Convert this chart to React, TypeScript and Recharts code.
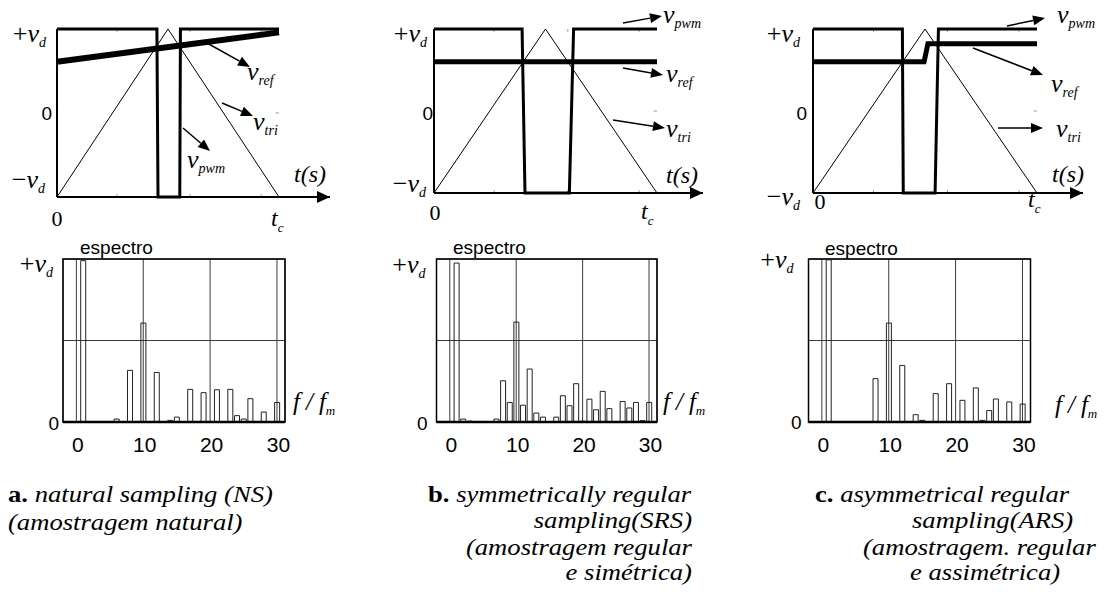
import {
  LineChart,
  Line,
  XAxis,
  YAxis,
  BarChart,
  Bar,
  CartesianGrid,
  ReferenceLine,
  ReferenceArea,
  ReferenceDot,
} from 'recharts';

const W = 1112;
const H = 600;
const SERIF = '"Liberation Serif", "Times New Roman", serif';
const SANS = '"Liberation Sans", Arial, sans-serif';

// time axis in units of t_c, voltage in units of v_d
const triT = [0, 0.5, 1];
const triV = [-1, 1, -1];

const refTimeA = [0, 1];
const refA = [0.61, 0.96];
const refTimeB = [0, 1];
const refB = [0.6, 0.6];
const refTimeC = [0, 0.496, 0.513, 1];
const refC = [0.6, 0.6, 0.82, 0.82];

const pwmTimeA = [0, 0.45, 0.455, 0.553, 0.556, 1];
const pwmTimeB = [0, 0.395, 0.408, 0.607, 0.626, 1];
const pwmTimeC = [0, 0.399, 0.403, 0.545, 0.56, 1];
const pwmLevels = [1, 1, -1, -1, 1, 1];

const minorTicks = [0.27, 0.6, 0.92];
const topXTicks = [0, 1];
const topYTicks = [-1, 0, 1];

// spectra (f / f_m, amplitude relative to v_d)
const harmonics = [1, 2, 3, 4, 5, 6, 7, 8, 9, 10, 11, 12, 13, 14, 15, 16, 17, 18, 19, 20, 21, 22, 23, 24, 25, 26, 27, 28, 29, 30];
const specA = [0.99, 0.003, 0, 0, 0, 0.018, 0, 0.317, 0, 0.607, 0, 0.304, 0.003, 0.01, 0.03, 0, 0.2, 0.003, 0.18, 0, 0.198, 0.003, 0.2, 0.039, 0.018, 0.143, 0.003, 0.061, 0, 0.12];
const specB = [0.975, 0.018, 0.005, 0, 0, 0, 0.018, 0.253, 0.12, 0.613, 0.103, 0.325, 0.055, 0.03, 0, 0.03, 0.161, 0.1, 0.235, 0.005, 0.14, 0.075, 0.188, 0.082, 0, 0.126, 0.086, 0.12, 0.008, 0.12];
const specC = [0.995, 0, 0.003, 0.003, 0.003, 0.003, 0.003, 0.266, 0, 0.607, 0.003, 0.347, 0, 0.045, 0.01, 0, 0.174, 0.003, 0.235, 0.003, 0.133, 0.003, 0.209, 0.01, 0.07, 0.141, 0.003, 0.123, 0.003, 0.11];
const specXTicks = [0, 10, 20, 30];
const specYTicks = [0, 0.5, 1];
const specDomain = [-2, 31.2];

const captionA = [
  { bold: 'a.', text: ' natural sampling (NS)' },
  { bold: '', text: '(amostragem natural)' },
];
const captionB = [
  { bold: 'b.', text: ' symmetrically regular' },
  { bold: '', text: 'sampling(SRS)' },
  { bold: '', text: '(amostragem regular' },
  { bold: '', text: 'e simétrica)' },
];
const captionC = [
  { bold: 'c.', text: ' asymmetrical regular' },
  { bold: '', text: 'sampling(ARS)' },
  { bold: '', text: '(amostragem. regular' },
  { bold: '', text: 'e assimétrica)' },
];

const zip = (t: number[], v: number[]) => t.map((x, i) => ({ t: x, v: v[i] }));

// layout of each panel (pixels)
const topPanels = [
  {
    left: 57, right: 279, top: 29, bottom: 197, end: 330, refT: refTimeA, refV: refA, refW: 6, pwmT: pwmTimeA,
    plus: { gap: 11, dy: 13 }, zero: { gap: 5, dy: 7 }, minus: { gap: 12, dy: -9 },
    x0: { dx: 0, dy: 29 }, tc: { dx: -8, dy: 29 },
  },
  {
    left: 434, right: 657, top: 29, bottom: 193, end: 703, refT: refTimeB, refV: refB, refW: 5, pwmT: pwmTimeB,
    plus: { gap: 7, dy: 13 }, zero: { gap: 1, dy: 9 }, minus: { gap: 8, dy: -1 },
    x0: { dx: 1, dy: 27 }, tc: { dx: -16, dy: 26 },
  },
  {
    left: 813, right: 1037, top: 29, bottom: 193, end: 1083, refT: refTimeC, refV: refC, refW: 5, pwmT: pwmTimeC,
    plus: { gap: 13, dy: 13 }, zero: { gap: 6, dy: 9 }, minus: { gap: 13, dy: 12 },
    x0: { dx: 7, dy: 16 }, tc: { dx: -9, dy: 14 },
  },
];

const specPanels = [
  { left: 63, right: 285, top: 259, bottom: 422, amp: specA, plus: { gap: 10, dy: 13 }, zero: { gap: 4, dy: 8 } },
  { left: 436.5, right: 657, top: 259, bottom: 422, amp: specB, plus: { gap: 11, dy: 14 }, zero: { gap: 9, dy: 8 } },
  { left: 808.5, right: 1030.5, top: 259, bottom: 422, amp: specC, plus: { gap: 15, dy: 9 }, zero: { gap: 7, dy: 7 } },
];

function VdText({ x, y, sign }: any) {
  return (
    <text x={x} y={y} textAnchor="end" fontFamily={SERIF} fontSize={26} fill="#000">
      <tspan>{sign}</tspan>
      <tspan fontStyle="italic">v</tspan>
      <tspan fontStyle="italic" fontSize={14} dy={5}>d</tspan>
    </text>
  );
}

function TimeYTick({ payload, p }: any) {
  const y = payload.coordinate;
  if (payload.value === 0) {
    return (
      <text x={p.left - p.zero.gap} y={y + p.zero.dy} textAnchor="end" fontFamily={SANS} fontSize={19} fill="#000">
        0
      </text>
    );
  }
  const s = payload.value > 0 ? p.plus : p.minus;
  return <VdText x={p.left - s.gap} y={y + s.dy} sign={payload.value > 0 ? '+' : '−'} />;
}

function TimeXTick({ payload, p }: any) {
  const x = payload.coordinate;
  if (payload.value === 0) {
    return (
      <text x={x + p.x0.dx} y={p.bottom + p.x0.dy} textAnchor="middle" fontFamily={SERIF} fontSize={22} fill="#000">
        0
      </text>
    );
  }
  return (
    <text x={x + p.tc.dx} y={p.bottom + p.tc.dy} fontFamily={SERIF} fontSize={24} fontStyle="italic" fill="#000">
      <tspan>t</tspan>
      <tspan fontSize={13} dy={6}>c</tspan>
    </text>
  );
}

function ArrowHead({ cx, cy }: any) {
  return <polygon points={`${cx},${cy} ${cx - 13},${cy - 6} ${cx - 13},${cy + 6}`} fill="#000" />;
}

function TimePanel({ p }: any) {
  const tMax = (p.end - p.left) / (p.right - p.left);
  return (
    <div style={{ position: 'absolute', left: 0, top: 0 }}>
      <LineChart
        width={W}
        height={H}
        margin={{ left: p.left - 1, right: W - p.end, top: p.top, bottom: H - p.bottom - 1 }}
      >
        <XAxis
          type="number"
          dataKey="t"
          domain={[0, tMax]}
          ticks={topXTicks}
          interval={0}
          height={1}
          axisLine={{ stroke: '#000', strokeWidth: 2 }}
          tickLine={false}
          tick={(props: any) => <TimeXTick {...props} p={p} />}
        />
        <YAxis
          type="number"
          domain={[-1, 1]}
          ticks={topYTicks}
          interval={0}
          width={1}
          axisLine={{ stroke: '#000', strokeWidth: 2 }}
          tickLine={false}
          tick={(props: any) => <TimeYTick {...props} p={p} />}
        />
        {minorTicks.map((t) => (
          <ReferenceLine key={'u' + t} segment={[{ x: t, y: 1 }, { x: t, y: 0.965 }]} stroke="#999" />
        ))}
        {minorTicks.map((t) => (
          <ReferenceLine key={'d' + t} segment={[{ x: t, y: -1 }, { x: t, y: -0.965 }]} stroke="#999" />
        ))}
        <ReferenceLine segment={[{ x: 0.985, y: 0 }, { x: 1, y: 0 }]} stroke="#999" />
        <Line data={zip(triT, triV)} dataKey="v" type="linear" stroke="#000" strokeWidth={1} dot={false} isAnimationActive={false} />
        <Line data={zip(p.refT, p.refV)} dataKey="v" type="linear" stroke="#000" strokeWidth={p.refW} dot={false} isAnimationActive={false} />
        <Line data={zip(p.pwmT, pwmLevels)} dataKey="v" type="linear" stroke="#000" strokeWidth={3} dot={false} isAnimationActive={false} />
        <ReferenceDot x={tMax} y={-1} shape={(props: any) => <ArrowHead {...props} />} />
      </LineChart>
    </div>
  );
}

function SpecYTick({ payload, s }: any) {
  const y = payload.coordinate;
  if (payload.value === 1) return <VdText x={s.left - s.plus.gap} y={y + s.plus.dy} sign="+" />;
  if (payload.value === 0) {
    return (
      <text x={s.left - s.zero.gap} y={y + s.zero.dy} textAnchor="end" fontFamily={SANS} fontSize={19} fill="#000">
        0
      </text>
    );
  }
  return <g />;
}

function SpecXTick({ payload, s }: any) {
  return (
    <text x={payload.coordinate + 1.5} y={s.bottom + 30} textAnchor="middle" fontFamily={SANS} fontSize={21} fill="#000">
      {payload.value}
    </text>
  );
}

function SpectrumPanel({ s }: any) {
  const data = harmonics.map((h, i) => ({ h, a: s.amp[i] }));
  return (
    <div style={{ position: 'absolute', left: 0, top: 0 }}>
      <BarChart
        width={W}
        height={H}
        data={data}
        margin={{ left: s.left - 1, right: W - s.right, top: s.top, bottom: H - s.bottom - 1 }}
      >
        <CartesianGrid stroke="#3a3a3a" strokeWidth={1} />
        <XAxis
          type="number"
          dataKey="h"
          domain={specDomain}
          ticks={specXTicks}
          interval={0}
          height={1}
          allowDataOverflow
          axisLine={{ stroke: '#000', strokeWidth: 2.5 }}
          tickLine={false}
          tick={(props: any) => <SpecXTick {...props} s={s} />}
        />
        <YAxis
          type="number"
          domain={[0, 1]}
          ticks={specYTicks}
          interval={0}
          width={1}
          axisLine={false}
          tickLine={false}
          tick={(props: any) => <SpecYTick {...props} s={s} />}
        />
        <ReferenceArea x1={specDomain[0]} x2={specDomain[1]} y1={0} y2={1} fill="none" stroke="#000" strokeWidth={1.5} />
        <Bar dataKey="a" barSize={5} fill="none" stroke="#222" strokeWidth={1} isAnimationActive={false} />
      </BarChart>
    </div>
  );
}

function Arrow({ a }: any) {
  const [x1, y1, x2, y2] = a;
  const ang = Math.atan2(y2 - y1, x2 - x1);
  const L = 12;
  const hw = 5;
  const bx = x2 - L * Math.cos(ang);
  const by = y2 - L * Math.sin(ang);
  const px = -Math.sin(ang) * hw;
  const py = Math.cos(ang) * hw;
  return (
    <g>
      <line x1={x1} y1={y1} x2={bx} y2={by} stroke="#000" strokeWidth={1.5} />
      <polygon points={`${x2},${y2} ${bx + px},${by + py} ${bx - px},${by - py}`} fill="#000" />
    </g>
  );
}

function SubLabel({ x, y, sub }: any) {
  return (
    <text x={x} y={y} fontFamily={SERIF} fontStyle="italic" fontSize={26} fill="#000">
      <tspan>v</tspan>
      <tspan fontSize={14} dy={5}>{sub}</tspan>
    </text>
  );
}

// annotation arrows & labels
const notes = [
  { arrow: [207, 43, 250, 67], x: 247, y: 80, sub: 'ref' },
  { arrow: [222, 103, 253, 116], x: 253, y: 130, sub: 'tri' },
  { arrow: [183, 128, 210, 151], x: 187, y: 168, sub: 'pwm' },
  { arrow: [623, 23, 662, 16], x: 663, y: 23, sub: 'pwm' },
  { arrow: [623, 68, 663, 75], x: 666, y: 82, sub: 'ref' },
  { arrow: [613, 120, 665, 128], x: 666, y: 137, sub: 'tri' },
  { arrow: [1007, 26, 1045, 18], x: 1057, y: 23, sub: 'pwm' },
  { arrow: [973, 48, 1043, 75], x: 1051, y: 92, sub: 'ref' },
  { arrow: [998, 128, 1043, 128], x: 1056, y: 137, sub: 'tri' },
];

const tsLabels = [
  { x: 294, y: 182 },
  { x: 666, y: 183 },
  { x: 1052, y: 182 },
];

const fLabels = [
  { x: 293, y: 410 },
  { x: 663, y: 410 },
  { x: 1055, y: 413 },
];

const espectroPos = [
  { x: 80, y: 254 },
  { x: 453, y: 254 },
  { x: 825, y: 255 },
];

// [x, baseline, anchor]
const captionLayout = [
  { lines: captionA, pos: [[8, 502, 'start'], [8, 530, 'start']] },
  { lines: captionB, pos: [[428, 502, 'start'], [692, 528, 'end'], [692, 555, 'end'], [692, 580, 'end']] },
  { lines: captionC, pos: [[815, 502, 'start'], [912, 528, 'start'], [863, 555, 'start'], [910, 580, 'start']] },
];

function Overlay() {
  return (
    <svg width={W} height={H} style={{ position: 'absolute', left: 0, top: 0 }}>
      {notes.map((n, i) => (
        <g key={i}>
          <Arrow a={n.arrow} />
          <SubLabel x={n.x} y={n.y} sub={n.sub} />
        </g>
      ))}
      {tsLabels.map((l, i) => (
        <text key={'ts' + i} x={l.x} y={l.y} fontFamily={SERIF} fontStyle="italic" fontSize={24} fill="#000">
          t(s)
        </text>
      ))}
      {fLabels.map((l, i) => (
        <text key={'f' + i} x={l.x} y={l.y} fontFamily={SERIF} fontStyle="italic" fontSize={25} fill="#000">
          <tspan>f</tspan>
          <tspan dx={6}>/</tspan>
          <tspan dx={6}>f</tspan>
          <tspan fontSize={13} dy={5}>m</tspan>
        </text>
      ))}
      {espectroPos.map((l, i) => (
        <text key={'e' + i} x={l.x} y={l.y} fontFamily={SANS} fontSize={19} fill="#000">
          espectro
        </text>
      ))}
      {captionLayout.map((c, i) =>
        c.lines.map((ln, j) => {
          const [x, y, anchor] = c.pos[j] as [number, number, string];
          return (
            <text
              key={'c' + i + j}
              x={0}
              y={0}
              transform={`translate(${x},${y}) scale(1.11,1)`}
              textAnchor={anchor}
              fontFamily={SERIF}
              fontSize={24}
              fill="#000"
            >
              {ln.bold && <tspan fontWeight="bold">{ln.bold}</tspan>}
              <tspan fontStyle="italic">{ln.text}</tspan>
            </text>
          );
        })
      )}
    </svg>
  );
}

export default function App() {
  return (
    <div style={{ position: 'absolute', left: 0, top: 0, width: W, height: H, background: '#fff', overflow: 'hidden' }}>
      {topPanels.map((p, i) => (
        <TimePanel key={'t' + i} p={p} />
      ))}
      {specPanels.map((s, i) => (
        <SpectrumPanel key={'s' + i} s={s} />
      ))}
      <Overlay />
    </div>
  );
}
